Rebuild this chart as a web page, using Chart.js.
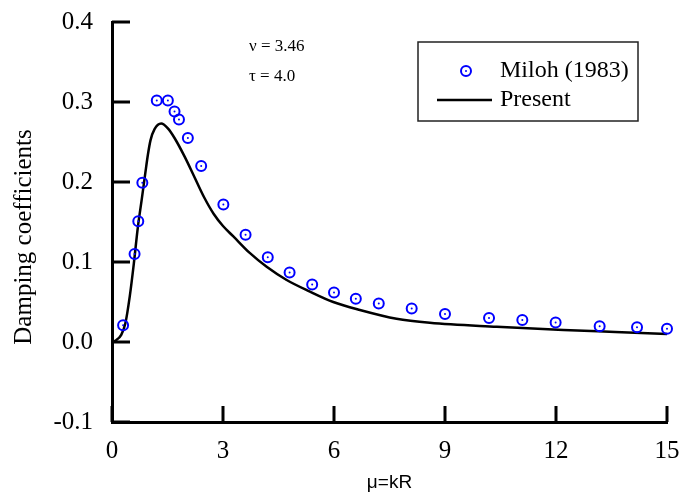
<!DOCTYPE html>
<html>
<head>
<meta charset="utf-8">
<script src="https://cdn.jsdelivr.net/npm/chart.js@4.4.1/dist/chart.umd.min.js"></script>
<style>
  html, body { margin: 0; padding: 0; background: #fff; }
  canvas { display: block; }
</style>
</head>
<body>
<canvas id="myChart" width="680" height="496"></canvas>
<script>
// Miloh (1983) reference values
const milohX = [0.30, 0.61, 0.71, 0.82, 1.21, 1.51, 1.69, 1.81, 2.05, 2.41, 3.01, 3.61, 4.21, 4.80,
                5.41, 6.00, 6.59, 7.21, 8.10, 9.00, 10.19, 11.09, 11.99, 13.18, 14.19, 15.00];
const milohY = [0.021, 0.110, 0.151, 0.199, 0.302, 0.302, 0.288, 0.278, 0.255, 0.220, 0.172, 0.134, 0.106, 0.087,
                0.072, 0.062, 0.054, 0.048, 0.042, 0.035, 0.030, 0.0275, 0.0245, 0.0196, 0.0184, 0.0166];

// present computation
const presentX = [0, 0.10, 0.25, 0.36, 0.48, 0.59, 0.70, 0.80, 0.90, 0.97, 1.04, 1.15, 1.33, 1.51, 1.69, 1.96,
                  2.24, 2.50, 2.75, 3.00, 3.28, 3.73, 4.18, 4.72, 5.35, 5.98, 6.70, 7.69, 8.59, 10.4, 12.2, 13.6, 15.0];
const presentY = [0, 0.002, 0.009, 0.023, 0.057, 0.098, 0.144, 0.177, 0.211, 0.234, 0.252, 0.266, 0.273, 0.267, 0.255, 0.232,
                  0.205, 0.180, 0.160, 0.145, 0.132, 0.111, 0.094, 0.0775, 0.063, 0.050, 0.040, 0.029, 0.024, 0.019, 0.015, 0.0125, 0.010];

const xTicks = [0, 3, 6, 9, 12, 15];
const yTicks = [-0.1, 0, 0.1, 0.2, 0.3, 0.4];
const seriesNames = ['Miloh (1983)', 'Present'];
const paramLines = ['ν = 3.46', 'τ = 4.0'];
const yTitle = 'Damping coefficients';
const xTitle = 'μ=kR';

const SERIF = '"Liberation Serif", "Times New Roman", serif';
const SANS = '"Liberation Sans", Arial, sans-serif';
const BLUE = '#0000ff';

function drawDotCircle(ctx, x, y) {
  ctx.strokeStyle = BLUE;
  ctx.lineWidth = 2;
  ctx.beginPath();
  ctx.arc(x, y, 5, 0, Math.PI * 2);
  ctx.stroke();
  ctx.fillStyle = BLUE;
  ctx.beginPath();
  ctx.arc(x, y, 1, 0, Math.PI * 2);
  ctx.fill();
}

// ticks pointing into the plot, plus the centre dots of the circles
const inwardTicks = {
  id: 'inwardTicks',
  afterDatasetsDraw(chart) {
    const { ctx, chartArea, scales: { x, y } } = chart;
    ctx.save();
    ctx.fillStyle = BLUE;
    chart.getDatasetMeta(0).data.forEach(pt => {
      ctx.beginPath();
      ctx.arc(pt.x, pt.y, 1, 0, Math.PI * 2);
      ctx.fill();
    });

    ctx.strokeStyle = '#000';
    ctx.lineWidth = 3;
    ctx.beginPath();
    y.ticks.forEach(t => {
      const py = y.getPixelForValue(t.value);
      ctx.moveTo(chartArea.left, py);
      ctx.lineTo(chartArea.left + 18, py);
    });
    x.ticks.forEach(t => {
      const px = x.getPixelForValue(t.value);
      ctx.moveTo(px, chartArea.bottom);
      ctx.lineTo(px, chartArea.bottom - 16);
    });
    ctx.stroke();
    ctx.restore();
  }
};

// boxed legend, parameter note and y-axis title
const extras = {
  id: 'extras',
  afterDraw(chart) {
    const ctx = chart.ctx;
    ctx.save();

    ctx.strokeStyle = '#222';
    ctx.lineWidth = 1.5;
    ctx.strokeRect(418, 42, 220, 79);

    drawDotCircle(ctx, 466, 71);
    ctx.strokeStyle = '#000';
    ctx.lineWidth = 2.5;
    ctx.beginPath();
    ctx.moveTo(437, 100);
    ctx.lineTo(492, 100);
    ctx.stroke();

    ctx.fillStyle = '#000';
    ctx.textBaseline = 'middle';
    ctx.textAlign = 'left';
    ctx.font = '24px ' + SERIF;
    ctx.fillText(seriesNames[0], 500, 71);
    ctx.fillText(seriesNames[1], 500, 100);

    ctx.font = '17px ' + SERIF;
    ctx.fillText(paramLines[0], 249, 47);
    ctx.fillText(paramLines[1], 249, 77);

    ctx.translate(24, 237);
    ctx.rotate(-Math.PI / 2);
    ctx.textAlign = 'center';
    ctx.font = '25px ' + SERIF;
    ctx.fillText(yTitle, 0, 0);

    ctx.restore();
  }
};

const ctx = document.getElementById('myChart').getContext('2d');

new Chart(ctx, {
  type: 'scatter',
  data: {
    datasets: [
      {
        label: seriesNames[0],
        data: milohX.map((v, i) => ({ x: v, y: milohY[i] })),
        pointStyle: 'circle',
        pointRadius: 5,
        pointBorderWidth: 2,
        pointBorderColor: BLUE,
        pointBackgroundColor: 'rgba(0,0,0,0)',
        showLine: false,
        clip: false
      },
      {
        label: seriesNames[1],
        data: presentX.map((v, i) => ({ x: v, y: presentY[i] })),
        showLine: true,
        borderColor: '#000',
        borderWidth: 2.5,
        pointRadius: 0,
        cubicInterpolationMode: 'monotone',
        clip: false
      }
    ]
  },
  options: {
    responsive: false,
    animation: false,
    layout: { padding: { top: 22, right: 13, left: 0, bottom: 0 } },
    plugins: {
      legend: { display: false },
      tooltip: { enabled: false }
    },
    scales: {
      x: {
        type: 'linear',
        min: 0,
        max: 15,
        afterBuildTicks: s => { s.ticks = xTicks.map(v => ({ value: v })); },
        afterFit: s => {
          s.height = 74;
          s.paddingLeft = 0;
          s.paddingRight = 0;
        },
        grid: { display: false, drawTicks: false },
        border: { display: true, width: 3, color: '#000' },
        ticks: {
          padding: 14,
          color: '#000',
          maxRotation: 0,
          autoSkip: false,
          font: { family: SERIF, size: 25 }
        },
        title: {
          display: true,
          text: xTitle,
          color: '#000',
          font: { family: SANS, size: 19 },
          padding: { top: 0, bottom: 2 }
        }
      },
      y: {
        min: -0.1,
        max: 0.4,
        afterBuildTicks: s => { s.ticks = yTicks.map(v => ({ value: v })); },
        afterFit: s => {
          s.width = 112;
          s.paddingTop = 0;
          s.paddingBottom = 0;
        },
        grid: { display: false, drawTicks: false },
        border: { display: true, width: 3, color: '#000' },
        ticks: {
          padding: 19,
          color: '#000',
          autoSkip: false,
          font: { family: SERIF, size: 25 },
          callback: v => v.toFixed(1)
        }
      }
    }
  },
  plugins: [inwardTicks, extras]
});
</script>
</body>
</html>
